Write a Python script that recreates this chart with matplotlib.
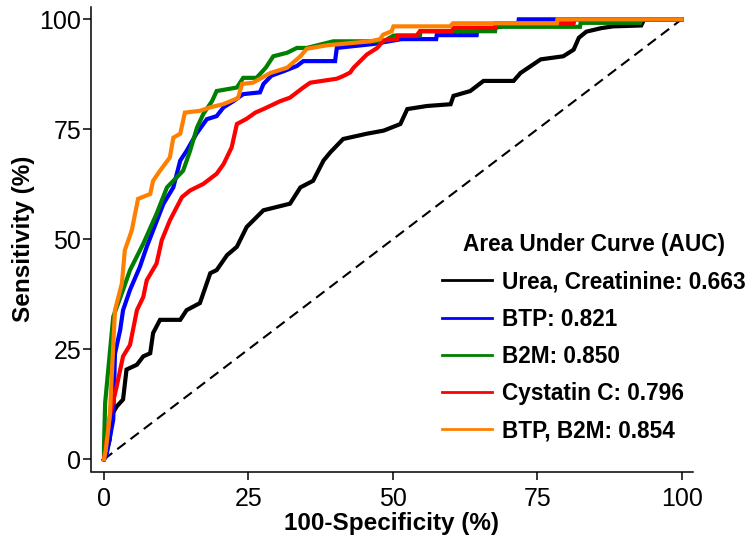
import matplotlib
matplotlib.use("Agg")
import matplotlib.pyplot as plt

# ROC curves: 100-specificity (%) and sensitivity (%)
urea_x = [0, 0.2, 1, 1.3, 2.2, 3.3, 3.9, 5.7, 6.8, 8, 8.5, 9.7, 13.2, 14.3, 16.6, 18.4, 19.5,
          21.3, 23, 24.7, 27.6, 32.2, 34, 36.2, 38, 39.2, 41.4, 45.5, 48.4, 51.3, 52.5, 55.9,
          60, 60.5, 63.4, 65.7, 70.9, 72.1, 75.6, 79.5, 81.3, 82.2, 83.5, 86.1, 88.1, 93, 93.5, 100]
urea_y = [0, 0.7, 4.5, 10, 12, 13.6, 20.4, 21.5, 23.4, 24.1, 28.7, 31.7, 31.7, 33.9, 35.5, 42.3, 43,
          46.4, 48.3, 52.8, 56.6, 58.1, 61.8, 63.3, 67.9, 69.8, 72.8, 74, 74.7, 76.2, 79.6, 80.3,
          80.7, 82.6, 83.7, 86, 86, 87.8, 90.9, 91.6, 93.1, 95.8, 97.2, 98, 98.4, 98.6, 100, 100]

btp_x = [0, 0.4, 1.6, 1.9, 2.8, 3.3, 4.5, 6.2, 7.4, 10.3, 12, 13.2, 14.3, 16, 17.8, 19.5, 20.7,
         22.4, 24.1, 27, 27.6, 29, 31.1, 33.4, 34.5, 40, 40.3, 46.7, 51.5, 57.5, 57.6, 64.5,
         64.6, 67.7, 71.7, 71.8, 78.1, 100]
btp_y = [0, 0.7, 9, 24, 29.4, 33.9, 38.5, 43.7, 48.3, 58.1, 61.8, 67.9, 70.1, 74, 77.3, 78, 80,
         81.4, 83, 83.4, 85.3, 87.2, 88.2, 89.4, 90.5, 90.5, 93.5, 94.4, 95.5, 95.5, 96.4, 96.4,
         97.3, 98.1, 99, 100, 100, 100]

b2m_x = [0, 0, 0.2, 1.6, 3.3, 4.5, 6.8, 9.1, 10.9, 13.7, 14.9, 16.1, 17.2, 18.7, 19.5, 23, 24.1,
         26.4, 28, 29.3, 31.7, 33.4, 35.1, 39.7, 48.4, 50.1, 54.7, 54.8, 67.7, 67.8, 82.4, 82.5,
         92.8, 93, 100]
b2m_y = [0, 3, 12.9, 32.4, 38.5, 43, 49, 55.8, 61.8, 65.6, 70.1, 75.4, 78.5, 81.4, 83.7, 84.5, 86.7,
         86.7, 89, 91.6, 92.4, 93.5, 93.5, 95, 95, 96.3, 96.3, 97.3, 97.3, 98.3, 98.3, 99.2,
         99.2, 100, 100]

cys_x = [0, 0.3, 1, 2.2, 3.3, 4.5, 5.7, 6.8, 7.4, 9.1, 10, 11.4, 13.5, 14.9, 17.2, 19.5, 20.7,
         22.1, 23, 24.7, 26.2, 27.6, 30.5, 32.2, 34.5, 35.7, 40.3, 41.4, 42.6, 43.2, 45.5, 47.3,
         48.4, 50.7, 50.8, 54.1, 54.7, 60.2, 60.5, 67.7, 67.8, 81.3, 81.5, 100]
cys_y = [0, 3, 9.8, 16.6, 23.4, 26, 33.9, 36.9, 40.7, 44.5, 49.8, 54.3, 59.6, 61.1, 62.6, 64.9, 67.1,
         70.9, 76.2, 77.4, 78.8, 79.6, 81.4, 82.2, 84.5, 85.6, 86.5, 87.1, 87.9, 89, 92, 93.5,
         95.2, 95.5, 96.3, 96.3, 97.3, 97.3, 98.1, 98.1, 99.1, 99.1, 100, 100]

combo_x = [0, 0.3, 1, 1.9, 3.1, 3.6, 4.8, 5.9, 8, 8.5, 9.7, 11.4, 12, 13.2, 14, 16.6, 18.4, 20.6,
           23.2, 23.9, 25.8, 28.8, 31.7, 34, 35.1, 38.6, 46.1, 47.8, 48.3, 49.8, 50.1, 59.9,
           60.4, 78.4, 78.5, 100]
combo_y = [0, 2, 9.8, 33.9, 40, 47.5, 52, 59.2, 60.3, 63.3, 65.6, 68.6, 73.1, 74, 78.8, 79.2, 80, 80.7,
           82.1, 85.3, 85.6, 87.8, 89, 91.6, 93.3, 94.1, 95, 95.5, 96.5, 97.3, 98.4, 98.4,
           99.1, 99.1, 100, 100]

labels = ["Urea, Creatinine: 0.663", "BTP: 0.821", "B2M: 0.850",
          "Cystatin C: 0.796", "BTP, B2M: 0.854"]
colors = ["#000000", "#0000ff", "#008000", "#ff0000", "#ff8000"]
ticks = [0, 25, 50, 75, 100]

plt.rcParams['font.family'] = ['Liberation Sans', 'DejaVu Sans']

fig = plt.figure(figsize=(7.54, 5.43), dpi=100)
ax = fig.add_axes([91 / 754, 1 - 471.5 / 543, 602 / 754, 464.5 / 543])

ax.plot([0, 100], [0, 100], color="black", lw=1.5, dashes=(5, 3))

curves = [(urea_x, urea_y), (btp_x, btp_y), (b2m_x, b2m_y), (cys_x, cys_y), (combo_x, combo_y)]
for (xs, ys), col, lab in zip(curves, colors, labels):
    ax.plot(xs, ys, color=col, lw=3, label=lab, solid_joinstyle="miter")

ax.set_xlim(-2.25, 101.96)
ax.set_ylim(-2.77, 102.8)
ax.set_xticks(ticks)
ax.set_yticks(ticks)
ax.tick_params(axis="both", direction="out", length=6, width=1.1, labelsize=18)
ax.tick_params(axis="x", pad=5)
ax.tick_params(axis="y", pad=1)

for side in ["top", "right"]:
    ax.spines[side].set_visible(False)
for side in ["left", "bottom"]:
    ax.spines[side].set_linewidth(1.1)

ax.set_xlabel("100-Specificity (%)", fontsize=17.5, fontweight="bold", labelpad=1)
ax.set_ylabel("Sensitivity (%)", fontsize=17.5, fontweight="bold", labelpad=3)

leg = ax.legend(loc="upper left", bbox_to_anchor=(442 / 754, 1 - 233 / 543),
                bbox_transform=fig.transFigure, frameon=False, borderpad=0, borderaxespad=0,
                title="Area Under Curve (AUC)", handlelength=2.2, handletextpad=0.45,
                labelspacing=0.63, prop={"size": 16.3, "weight": "bold"},
                title_fontproperties={"size": 16.3, "weight": "bold"})
for line in leg.get_lines():
    line.set_linewidth(2)

fig.savefig("out.png", dpi=100)
